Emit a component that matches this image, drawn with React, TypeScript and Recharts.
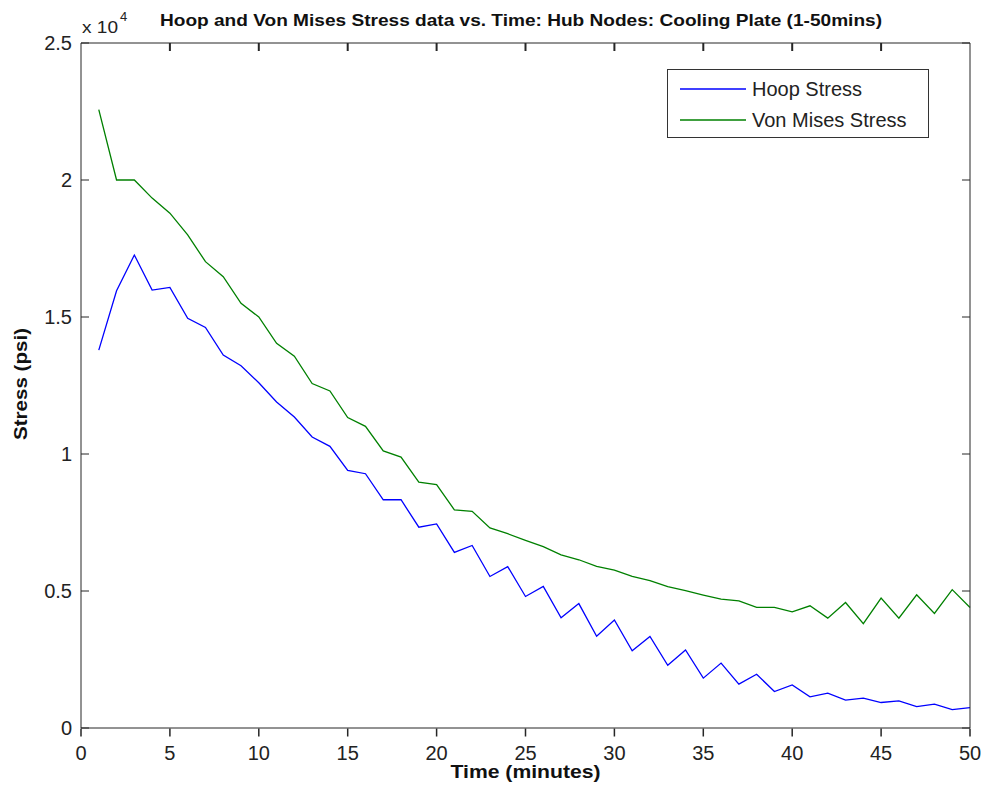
import { LineChart, Line, XAxis, YAxis, Legend, Label, ReferenceLine } from "recharts";

// time (minutes)
const minutes = [
  1, 2, 3, 4, 5, 6, 7, 8, 9, 10, 11, 12, 13, 14, 15, 16, 17, 18, 19, 20, 21, 22, 23, 24, 25,
  26, 27, 28, 29, 30, 31, 32, 33, 34, 35, 36, 37, 38, 39, 40, 41, 42, 43, 44, 45, 46, 47, 48, 49, 50,
];

// stress in psi
const hoopStress = [
  13790, 15960, 17260, 15980, 16080, 14950, 14620, 13610, 13220, 12600,
  11900, 11350, 10620, 10280, 9400, 9280, 8330, 8330, 7330, 7450,
  6410, 6660, 5530, 5890, 4800, 5170, 4020, 4540, 3350, 3940,
  2820, 3340, 2290, 2850, 1820, 2370, 1600, 1960, 1330, 1570,
  1140, 1270, 1020, 1090, 930, 990, 780, 870, 670, 740,
];

const vonMisesStress = [
  22570, 20000, 20000, 19340, 18790, 18000, 17020, 16470, 15500, 15000,
  14040, 13570, 12570, 12300, 11330, 11010, 10110, 9890, 8970, 8880,
  7960, 7910, 7300, 7090, 6850, 6620, 6320, 6140, 5900, 5760,
  5530, 5380, 5160, 5010, 4850, 4700, 4640, 4400, 4400, 4240,
  4460, 4010, 4580, 3810, 4740, 4010, 4860, 4180, 5050, 4400,
];

const xTicks = [0, 5, 10, 15, 20, 25, 30, 35, 40, 45, 50];
const yTicks = [0, 5000, 10000, 15000, 20000, 25000];

const data = minutes.map((t, i) => ({ t, hoop: hoopStress[i], vm: vonMisesStress[i] }));

const FONT = '"Liberation Sans", Arial, sans-serif';
const AXIS = "#262626";
const TEXT = "#222";
const tickFont = { fontSize: 20, fill: TEXT, fontFamily: FONT };

// inward tick length (~8px) in data units: plot is ~889px / 50 min and ~685px / 25000 psi
const X_TICK_LEN = 0.45;
const Y_TICK_LEN = 292;
const X_MARGIN = 18;

// bottom axis: label plus a small inward mark drawn as a filled rect
function BottomTick({ x, y, payload }: any) {
  return (
    <g>
      <rect x={x - 0.75} y={y - X_MARGIN + 0.5} width={1.5} height={8} fill={AXIS} />
      <text x={x} y={y} dy="0.72em" textAnchor="middle" fontSize={20} fill={TEXT} fontFamily={FONT}>
        {payload.value}
      </text>
    </g>
  );
}

function LegendBox({ payload }: any) {
  return (
    <div
      style={{
        boxSizing: "border-box",
        width: 262,
        height: 69,
        border: "1px solid #333",
        background: "#fff",
        paddingTop: 3,
        fontFamily: FONT,
        fontSize: 20,
        color: TEXT,
      }}
    >
      {(payload || []).map((p: any) => (
        <div key={p.value} style={{ display: "flex", alignItems: "center", height: 31 }}>
          <svg width={80} height={4} style={{ display: "block" }}>
            <line x1={12} x2={78} y1={2} y2={2} stroke={p.color} strokeWidth={1.3} />
          </svg>
          <span style={{ marginLeft: 4, lineHeight: "20px" }}>{p.value}</span>
        </div>
      ))}
    </div>
  );
}

export default function App() {
  const tickProps = { xAxisId: "b", yAxisId: "l", stroke: AXIS, ifOverflow: "visible" as const };
  return (
    <div style={{ position: "absolute", left: 0, top: 0, width: 985, height: 789, background: "#fff" }}>
      <svg width={985} height={60} style={{ position: "absolute", left: 0, top: 0, pointerEvents: "none", zIndex: 2 }}>
        <text x={521} y={26} textAnchor="middle" fontSize={17} fontWeight="bold" fill="#111" fontFamily={FONT}
          textLength={722} lengthAdjust="spacingAndGlyphs">
          Hoop and Von Mises Stress data vs. Time: Hub Nodes: Cooling Plate (1-50mins)
        </text>
        <text x={82} y={33} fontSize={17} fill={TEXT} fontFamily={FONT} textLength={36} lengthAdjust="spacingAndGlyphs">
          x 10
        </text>
        <text x={120} y={21} fontSize={13} fill={TEXT} fontFamily={FONT}>4</text>
      </svg>
      <LineChart width={985} height={789} data={data} margin={{ top: 42, right: 14, bottom: 0, left: 0 }}>
        <XAxis xAxisId="b" dataKey="t" type="number" domain={[0, 50]} ticks={xTicks} interval={0}
          height={61} tickSize={0} tickMargin={X_MARGIN} tickLine={false} stroke={AXIS}
          tick={(p: any) => <BottomTick {...p} />}>
          <Label
            content={({ viewBox }: any) => (
              <text x={viewBox.x + viewBox.width / 2} y={viewBox.y + 50} textAnchor="middle" fontSize={19}
                fontWeight="bold" fill="#111" fontFamily={FONT} textLength={150} lengthAdjust="spacingAndGlyphs">
                Time (minutes)
              </text>
            )}
          />
        </XAxis>
        <XAxis xAxisId="t" orientation="top" dataKey="t" type="number" domain={[0, 50]} ticks={xTicks}
          height={1} tickLine={false} tick={false} stroke={AXIS} />
        <YAxis yAxisId="l" type="number" domain={[0, 25000]} ticks={yTicks} interval={0}
          width={81} tickSize={-8} tickMargin={17} tickLine={false} stroke={AXIS} tick={tickFont}
          tickFormatter={(v: number) => String(v / 10000)}>
          <Label
            content={({ viewBox }: any) => {
              const cx = viewBox.x + 27;
              const cy = 384;
              return (
                <text x={cx} y={cy} transform={`rotate(-90 ${cx} ${cy})`} textAnchor="middle" fontSize={18}
                  fontWeight="bold" fill="#111" fontFamily={FONT} textLength={112} lengthAdjust="spacingAndGlyphs">
                  Stress (psi)
                </text>
              );
            }}
          />
        </YAxis>
        <YAxis yAxisId="r" orientation="right" type="number" domain={[0, 25000]} ticks={yTicks}
          width={1} tickLine={false} tick={false} stroke={AXIS} />

        {/* matlab style inward tick marks: top, left and right sides */}
        {xTicks.slice(1, -1).map((t) => (
          <ReferenceLine key={`xt${t}`} {...tickProps} strokeWidth={2}
            segment={[{ x: t, y: 25000 }, { x: t, y: 25000 - Y_TICK_LEN }]} />
        ))}
        {yTicks.map((v) => (
          <ReferenceLine key={`yl${v}`} {...tickProps} strokeWidth={1}
            segment={[{ x: 0, y: v }, { x: X_TICK_LEN, y: v }]} />
        ))}
        {yTicks.map((v) => (
          <ReferenceLine key={`yr${v}`} {...tickProps} strokeWidth={1}
            segment={[{ x: 50, y: v }, { x: 50 - X_TICK_LEN, y: v }]} />
        ))}

        <Legend
          layout="vertical"
          align="center"
          verticalAlign="middle"
          content={(p: any) => <LegendBox {...p} />}
          wrapperStyle={{ position: "absolute", left: 667, top: 69, width: 262, height: 69 }}
        />
        <Line xAxisId="b" yAxisId="l" type="linear" dataKey="hoop" name="Hoop Stress" stroke="#0000ff"
          strokeWidth={1.3} dot={false} isAnimationActive={false} />
        <Line xAxisId="b" yAxisId="l" type="linear" dataKey="vm" name="Von Mises Stress" stroke="#008000"
          strokeWidth={1.3} dot={false} isAnimationActive={false} />
      </LineChart>
    </div>
  );
}
